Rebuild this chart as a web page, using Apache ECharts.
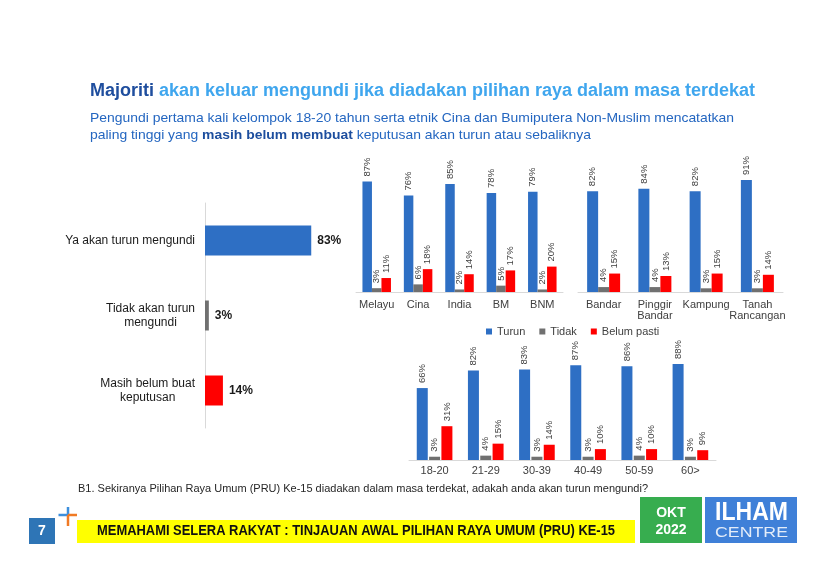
<!DOCTYPE html>
<html><head><meta charset="utf-8">
<script src="https://cdn.jsdelivr.net/npm/echarts@6/dist/echarts.min.js"></script>
<style>html,body{margin:0;padding:0;background:#fff}#c{width:840px;height:570px}</style>
</head><body><div id="c"></div>
<script>
// ---------- data ----------
const overallCategories = ['Ya akan turun mengundi', 'Tidak akan turun\nmengundi', 'Masih belum buat\nkeputusan'];
const overallValues = [83, 3, 14];
const seriesNames = ['Turun', 'Tidak', 'Belum pasti'];
const ethnicCategories = ['Melayu', 'Cina', 'India', 'BM', 'BNM'];
const ethnicTurun = [87, 76, 85, 78, 79];
const ethnicTidak = [3, 6, 2, 5, 2];
const ethnicBelum = [11, 18, 14, 17, 20];
const locationCategories = ['Bandar', 'Pinggir\nBandar', 'Kampung', 'Tanah\nRancangan'];
const locationTurun = [82, 84, 82, 91];
const locationTidak = [4, 4, 3, 3];
const locationBelum = [15, 13, 15, 14];
const ageCategories = ['18-20', '21-29', '30-39', '40-49', '50-59', '60>'];
const ageTurun = [66, 82, 83, 87, 86, 88];
const ageTidak = [3, 4, 3, 3, 4, 3];
const ageBelum = [31, 15, 14, 10, 10, 9];

// ---------- styling ----------
const FONT = 'Liberation Sans, Arial, Helvetica, sans-serif';
const BLUE = '#2e6fc4', GRAY = '#707070', RED = '#ff0000';
const COLORS = [BLUE, GRAY, RED];

const cv = document.createElement('canvas').getContext('2d');
function tw(font, text) { cv.font = font; return cv.measureText(text).width; }

const chart = echarts.init(document.getElementById('c'), null, { renderer: 'canvas' });

const grids = [
  { left: 205, top: 203, width: 128, height: 225 },
  { left: 356, top: 165, width: 207, height: 127 },
  { left: 578, top: 169, width: 205, height: 123 },
  { left: 409, top: 351, width: 307, height: 109 }
].map(g => Object.assign({ containLabel: false, outerBoundsMode: 'none' }, g));

function catAxis(idx, data, extra) {
  return Object.assign({
    type: 'category', gridIndex: idx, data: data,
    axisLine: { show: true, lineStyle: { color: '#d9d9d9', width: 1 } },
    axisTick: { show: false },
    splitLine: { show: false },
    axisLabel: { fontSize: 11, color: '#404040', fontFamily: FONT, margin: 7, lineHeight: 11, interval: 0 }
  }, extra || {});
}
function valAxis(idx) {
  return { type: 'value', gridIndex: idx, min: 0, max: 100, show: false, splitLine: { show: false } };
}

const groups = [
  { g: 1, data: [ethnicTurun, ethnicTidak, ethnicBelum], bw: 9.5, gap: '0%' },
  { g: 2, data: [locationTurun, locationTidak, locationBelum], bw: 11, gap: '0%' },
  { g: 3, data: [ageTurun, ageTidak, ageBelum], bw: 11, gap: '12%' }
];

const series = [{
  name: 'Keseluruhan', type: 'bar', xAxisIndex: 0, yAxisIndex: 0, barWidth: 30,
  data: overallValues.map((v, i) => ({ value: v, itemStyle: { color: COLORS[i] } })),
  label: { show: true, position: 'right', distance: 6, formatter: '{c}%', fontSize: 12, fontWeight: 'bold', color: '#1a1a1a', fontFamily: FONT },
  animation: false
}];
groups.forEach(gr => {
  gr.data.forEach((arr, k) => {
    series.push({
      name: seriesNames[k], type: 'bar', xAxisIndex: gr.g, yAxisIndex: gr.g,
      data: arr, barWidth: gr.bw, barGap: gr.gap,
      itemStyle: { color: COLORS[k] },
      label: { show: true, position: 'top', rotate: 90, align: 'left', verticalAlign: 'middle', distance: 5,
        formatter: '{c}%', fontSize: 9.5, color: '#404040', fontFamily: FONT },
      animation: false
    });
  });
});

// text helpers
const titleFont = 'bold 18px ' + FONT;
const titleA = 'Majoriti ';
const titleB = 'akan keluar mengundi jika diadakan pilihan raya dalam masa terdekat';
const titleScale = 665 / (tw(titleFont, titleA) + tw(titleFont, titleB));

const subFont = '13px ' + FONT, subBold = 'bold 13px ' + FONT;
const sub1 = 'Pengundi pertama kali kelompok 18-20 tahun serta etnik Cina dan Bumiputera Non-Muslim mencatatkan';
const sub2a = 'paling tinggi yang ', sub2b = 'masih belum membuat', sub2c = ' keputusan akan turun atau sebaliknya';
const subScale = 644 / tw(subFont, sub1);

const qFont = '11px ' + FONT;
const qText = 'B1. Sekiranya Pilihan Raya Umum (PRU) Ke-15 diadakan dalam masa terdekat, adakah anda akan turun mengundi?';
const qScale = 570 / tw(qFont, qText);

const yFont = 'bold 14px ' + FONT;
const yText = 'MEMAHAMI SELERA RAKYAT : TINJAUAN AWAL PILIHAN RAYA UMUM (PRU) KE-15';
const yScale = 518 / tw(yFont, yText);

const ilFont = 'bold 25px ' + FONT;
const ilScale = 73 / tw(ilFont, 'ILHAM');
const ceFont = '15px ' + FONT;
const ceScale = 73 / tw(ceFont, 'CENTRE');

const graphic = [
  { type: 'text', x: 90, y: 91, scaleX: titleScale, style: { text: '{a|' + titleA + '}{b|' + titleB + '}', font: titleFont, verticalAlign: 'middle',
      rich: { a: { fill: '#1f4e9e', font: titleFont }, b: { fill: '#3fa6ee', font: titleFont } } } },
  { type: 'text', x: 90, y: 118, scaleX: subScale, style: { text: sub1, font: subFont, fill: '#2466c0', verticalAlign: 'middle' } },
  { type: 'text', x: 90, y: 135, scaleX: subScale, style: { text: '{n|' + sub2a + '}{b|' + sub2b + '}{n|' + sub2c + '}', font: subFont, verticalAlign: 'middle',
      rich: { n: { fill: '#2466c0', font: subFont }, b: { fill: '#1d4e9e', font: subBold } } } },
  { type: 'text', x: 78, y: 489, scaleX: qScale, style: { text: qText, font: qFont, fill: '#262626', verticalAlign: 'middle' } },
  // page number box
  { type: 'rect', shape: { x: 29, y: 518, width: 26, height: 26 }, style: { fill: '#2e75b6' } },
  { type: 'text', x: 42, y: 531, style: { text: '7', font: 'bold 14px ' + FONT, fill: '#ffffff', align: 'center', verticalAlign: 'middle' } },
  // plus sign
  { type: 'line', shape: { x1: 58.5, y1: 515, x2: 68, y2: 515 }, style: { stroke: '#3c8fdc', lineWidth: 2.5 } },
  { type: 'line', shape: { x1: 68, y1: 507, x2: 68, y2: 515 }, style: { stroke: '#3c8fdc', lineWidth: 2.5 } },
  { type: 'line', shape: { x1: 68, y1: 515, x2: 77, y2: 515 }, style: { stroke: '#f07a24', lineWidth: 2.5 } },
  { type: 'line', shape: { x1: 68, y1: 515, x2: 68, y2: 526 }, style: { stroke: '#f07a24', lineWidth: 2.5 } },
  // yellow banner
  { type: 'rect', shape: { x: 77, y: 520, width: 558, height: 23 }, style: { fill: '#ffff00' } },
  { type: 'text', x: 97, y: 531.5, scaleX: yScale, style: { text: yText, font: yFont, fill: '#111111', verticalAlign: 'middle' } },
  // date box
  { type: 'rect', shape: { x: 640, y: 497, width: 62, height: 46 }, style: { fill: '#37ad4f' } },
  { type: 'text', x: 671, y: 513, style: { text: 'OKT', font: 'bold 14px ' + FONT, fill: '#ffffff', align: 'center', verticalAlign: 'middle' } },
  { type: 'text', x: 671, y: 530, style: { text: '2022', font: 'bold 14px ' + FONT, fill: '#ffffff', align: 'center', verticalAlign: 'middle' } },
  // logo box
  { type: 'rect', shape: { x: 705, y: 497, width: 92, height: 46 }, style: { fill: '#3f80d8' } },
  { type: 'text', x: 715, y: 513, scaleX: ilScale, style: { text: 'ILHAM', font: ilFont, fill: '#ffffff', verticalAlign: 'middle' } },
  { type: 'text', x: 715, y: 533, scaleX: ceScale, style: { text: 'CENTRE', font: ceFont, fill: '#e3ecf9', verticalAlign: 'middle' } }
];

const option = {
  backgroundColor: '#ffffff',
  animation: false,
  grid: grids,
  xAxis: [
    { type: 'value', gridIndex: 0, min: 0, max: 100, show: false, splitLine: { show: false } },
    catAxis(1, ethnicCategories),
    catAxis(2, locationCategories),
    catAxis(3, ageCategories, { axisLabel: { fontSize: 11, color: '#404040', fontFamily: FONT, margin: 5, interval: 0 } })
  ],
  yAxis: [
    { type: 'category', gridIndex: 0, data: overallCategories, inverse: true,
      axisLine: { show: true, lineStyle: { color: '#d9d9d9', width: 1 } },
      axisTick: { show: false }, splitLine: { show: false },
      axisLabel: { margin: 10, interval: 0, formatter: v => '{c|' + v + '}',
        rich: { c: { align: 'center', fontSize: 12, lineHeight: 14, color: '#1a1a1a', fontFamily: FONT } } } },
    valAxis(1), valAxis(2), valAxis(3)
  ],
  legend: {
    data: seriesNames, left: 486, top: 326, itemWidth: 6, itemHeight: 6, itemGap: 14, icon: 'rect', padding: 0,
    textStyle: { fontSize: 11, color: '#404040', fontFamily: FONT }, selectedMode: false
  },
  series: series,
  graphic: graphic
};
chart.setOption(option);
</script>
</body></html>
